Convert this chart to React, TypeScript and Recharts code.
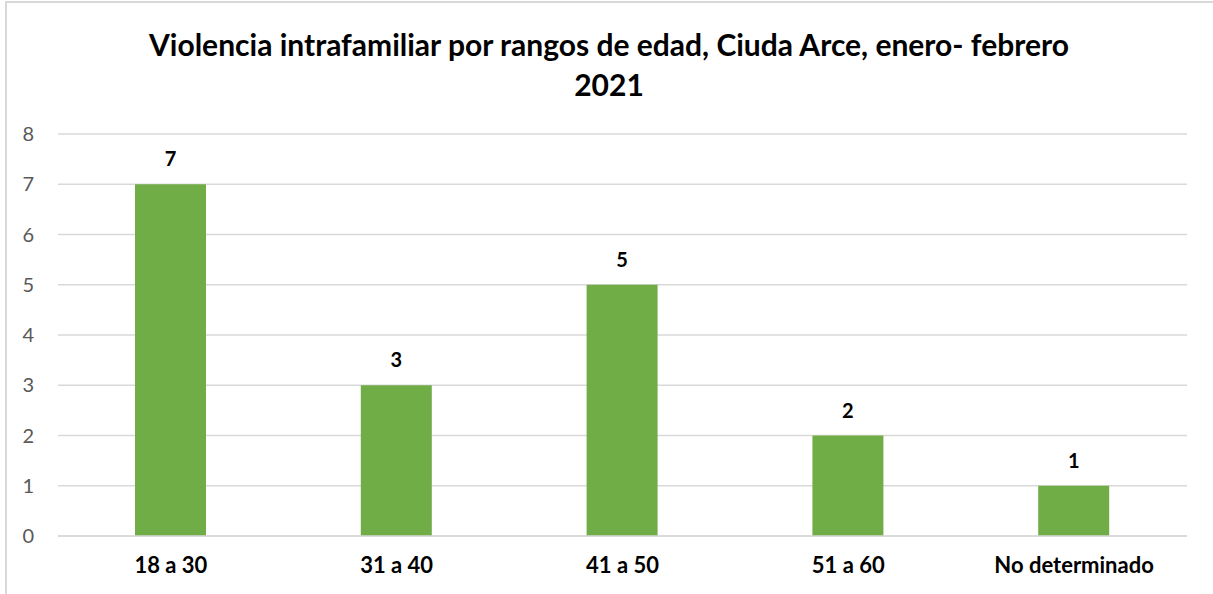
import React from "react";
import { BarChart, Bar, XAxis, YAxis, CartesianGrid, LabelList } from "recharts";

const categories = ["18 a 30", "31 a 40", "41 a 50", "51 a 60", "No determinado"];
const values = [7, 3, 5, 2, 1];
const yTicks = [0, 1, 2, 3, 4, 5, 6, 7, 8];
const titleLines = [
  "Violencia intrafamiliar por rangos de edad, Ciuda Arce, enero- febrero",
  "2021",
];

const data = categories.map((c, i) => ({ name: c, value: values[i] }));

const FONT = "Lato, 'Open Sans', sans-serif";

export default function App() {
  return (
    <div
      style={{
        position: "absolute",
        left: 0,
        top: 0,
        width: 1213,
        height: 594,
        overflow: "hidden",
        background: "#fff",
        fontFamily: FONT,
      }}
    >
      <div
        style={{
          position: "absolute",
          left: 5,
          top: 1,
          width: 1230,
          height: 620,
          border: "2px solid #D9D9D9",
          boxSizing: "border-box",
        }}
      />
      <div
        style={{
          position: "absolute",
          left: 5,
          top: 24,
          width: 1208,
          textAlign: "center",
          fontWeight: 700,
          fontSize: 30,
          lineHeight: "40px",
          color: "#000",
        }}
      >
        {titleLines.map((t, i) => (
          <div key={i}>{t}</div>
        ))}
      </div>
      <div style={{ position: "absolute", left: 0, top: 0 }}>
        <BarChart
          width={1213}
          height={594}
          data={data}
          margin={{ top: 134, right: 26, bottom: 0, left: 0 }}
        >
          <CartesianGrid vertical={false} stroke="#D9D9D9" strokeWidth={1.5} />
          <XAxis
            dataKey="name"
            height={58}
            tickLine={false}
            tickSize={0}
            tickMargin={21}
            axisLine={{ stroke: "#D9D9D9", strokeWidth: 1.5 }}
            tick={{ fill: "#000", fontSize: 22, fontWeight: 700, fontFamily: FONT }}
            interval={0}
          />
          <YAxis
            width={58}
            domain={[0, 8]}
            ticks={yTicks}
            interval={0}
            axisLine={false}
            tickLine={false}
            tickSize={0}
            tickMargin={24}
            tick={{ fill: "#595959", fontSize: 20, fontFamily: FONT }}
          />
          <Bar dataKey="value" fill="#70AD47" barSize={71} isAnimationActive={false}>
            <LabelList
              dataKey="value"
              position="top"
              offset={18}
              fill="#000"
              fontSize={20}
              fontWeight={700}
              fontFamily={FONT}
            />
          </Bar>
        </BarChart>
      </div>
    </div>
  );
}
